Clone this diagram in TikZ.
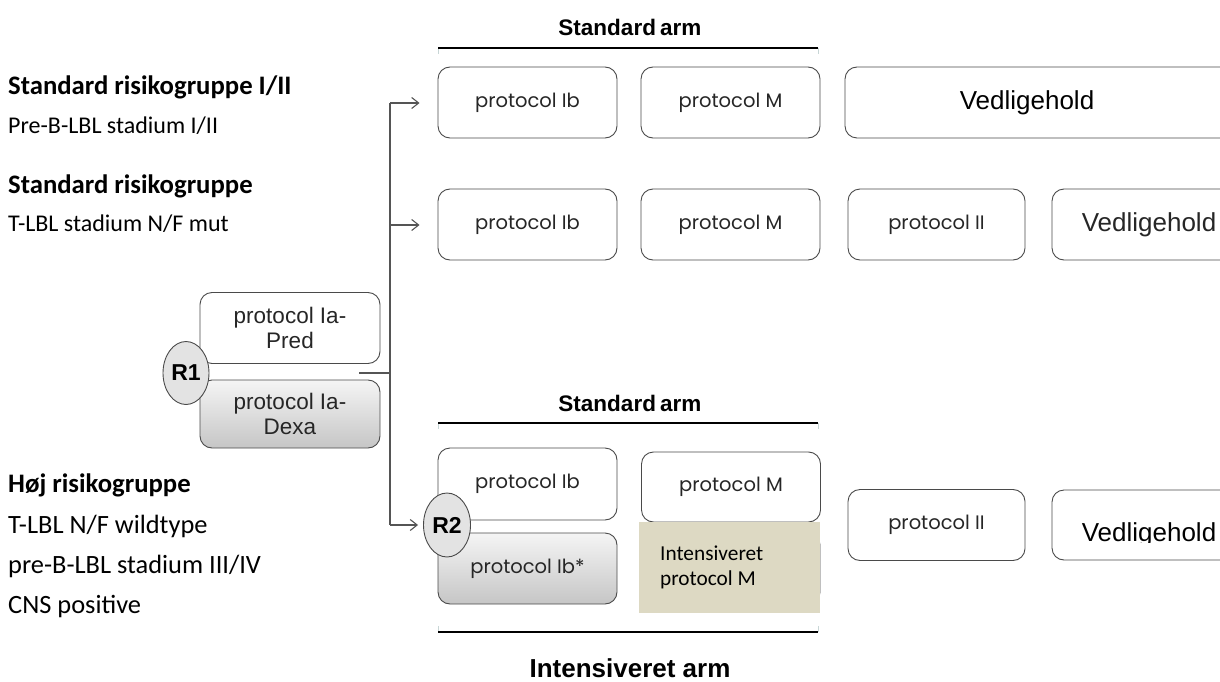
\documentclass[tikz,border=0pt]{standalone}
\usepackage{fontspec}
\usetikzlibrary{shapes.geometric,arrows.meta}
\newfontfamily\calfont{Carlito}
\newfontfamily\geofont{Poppins}
\newfontfamily\arifont{Liberation Sans}
\definecolor{edge}{HTML}{4A4A4A}
\definecolor{conn}{HTML}{555555}
\definecolor{tan}{HTML}{DDD9C3}
\definecolor{tick}{HTML}{C8D6D6}
\tikzset{
  pbox/.style={draw=edge, line width=0.9pt, rounded corners=12pt, fill=white,
    minimum width=179pt, minimum height=71pt, inner sep=0pt,
    font=\geofont\fontsize{19.5}{22}\selectfont, text=black!85},
  gbox/.style={pbox, top color=gray!8, bottom color=gray!45},
  iabox/.style={pbox, minimum width=180pt, align=center,
    font=\arifont\fontsize{22.5}{25}\selectfont},
  vtext/.style={font=\arifont\fontsize{26}{30}\selectfont, inner sep=0pt},
  rnode/.style={ellipse, draw=edge, line width=0.9pt, fill=gray!22,
    minimum width=46pt, minimum height=63pt, inner sep=0pt,
    font=\arifont\bfseries\fontsize{23}{26}\selectfont},
  grp/.style={anchor=base west, inner sep=0pt, font=\calfont\fontsize{26.7}{30}\bfseries\selectfont},
  sub/.style={anchor=base west, inner sep=0pt, font=\calfont\fontsize{24}{28}\selectfont},
  subl/.style={sub, font=\calfont\fontsize{26.4}{30}\selectfont},
  armlabel/.style={font=\arifont\bfseries\fontsize{22.5}{26}\selectfont, inner sep=0pt},
  armline/.style={line width=1.8pt, black},
  armtick/.style={line width=1pt, tick},
  conn/.style={draw=conn, line width=1.1pt},
  arr/.style={conn, -{Straight Barb[length=7pt,width=11pt]}},
}
\begin{document}
\begin{tikzpicture}[x=1pt,y=-1pt]
\useasboundingbox (0,0) rectangle (1220,682);
\clip (0,0) rectangle (1220,682);

% risk group descriptions
\node[grp] (g1) at (8,95) {Standard risikogruppe I/II};
\node[sub] (g1a) at (8,133) {Pre-B-LBL stadium I/II};
\node[grp] (g2) at (8,193) {Standard risikogruppe};
\node[sub] (g2a) at (8,231) {T-LBL stadium N/F mut};
\node[grp] (g3) at (8,492) {Høj risikogruppe};
\node[subl] (g3a) at (8,533) {T-LBL N/F wildtype};
\node[subl] (g3b) at (8,573) {pre-B-LBL stadium III/IV};
\node[subl] (g3c) at (8,613) {CNS positive};

% upper standard arm heading
\node[armlabel] (sa1) at (630,27) {Standard\hspace{-2pt} arm};
\draw[armtick] (438,48) -- (438,54) (818,48) -- (818,54);
\draw[armline] (438,48) -- (818,48);

% row 1
\node[pbox] (r1b) at (527.5,102.5) {protocol Ib};
\node[pbox] (r1m) at (730.5,102.5) {protocol M};
\node[pbox, minimum width=400pt] (r1v) at (1045,102.5) {};
\node[vtext] (r1vt) at (1027,103) {Vedligehold};

% row 2
\node[pbox] (r2b) at (527.5,224.5) {protocol Ib};
\node[pbox] (r2m) at (730.5,224.5) {protocol M};
\node[pbox, minimum width=177pt] (r2ii) at (936.5,224.5) {protocol II};
\node[pbox, minimum width=194pt, vtext] (r2v) at (1149,224.5) {Vedligehold};

% induction randomisation R1
\node[iabox] (pred) at (290,328) {protocol Ia-\\Pred};
\node[iabox, top color=gray!8, bottom color=gray!45, minimum height=68pt] (dexa) at (290,414) {protocol Ia-\\Dexa};
\node[rnode] (R1) at (186,373) {R1};

% connectors
\coordinate (split) at (359,373);
\coordinate (trunk) at (390,373);
\coordinate (top) at (390,103);
\coordinate (mid) at (390,225);
\coordinate (low) at (390,525);
\draw[conn] (split) -- (trunk);
\draw[conn] (top) -- (low);
\draw[arr, shorten >=18pt] (top) -- (r1b.west |- top);
\draw[arr, shorten >=18pt] (mid) -- (r2b.west |- mid);

% lower standard arm heading
\node[armlabel] (sa2) at (630,403) {Standard\hspace{-2pt} arm};
\draw[armtick] (438,423) -- (438,429) (818,423) -- (818,429);
\draw[armline] (438,423) -- (818,423);

% row 3 with randomisation R2
\node[pbox, minimum height=72pt] (r3b) at (527.5,484) {protocol Ib};
\node[gbox] (r3bs) at (527.5,568.5) {protocol Ib*};
\node[pbox, minimum height=70pt] (r3m) at (731,487) {protocol M};
\node[pbox] (r3mi) at (730.5,568.5) {};
\fill[tan] (639,522) rectangle (820,613);
\node[anchor=west, align=left, inner sep=0pt, font=\calfont\fontsize{21.3}{25}\selectfont] (r3it) at (660,567) {Intensiveret\\protocol M};
\node[pbox, minimum width=177pt] (r3ii) at (936.5,525) {protocol II};
\node[pbox, minimum width=194pt, minimum height=70pt] (r3v) at (1149,525) {};
\begin{scope}
  \clip (1040,480) rectangle (1220,542);
  \node[vtext] (r3vt) at (1149,535) {Vedligehold};
\end{scope}
\node[rnode, minimum width=47pt, minimum height=64pt] (R2) at (447,525) {R2};
\draw[arr, shorten >=5pt] (low) -- (R2.west);

% intensified arm bracket
\draw[armtick] (438,626) -- (438,632) (818,626) -- (818,632);
\draw[armline] (438,632) -- (818,632);
\node[armlabel, font=\arifont\bfseries\fontsize{26}{30}\selectfont] (ia) at (630,668) {Intensiveret arm};
\end{tikzpicture}
\end{document}
